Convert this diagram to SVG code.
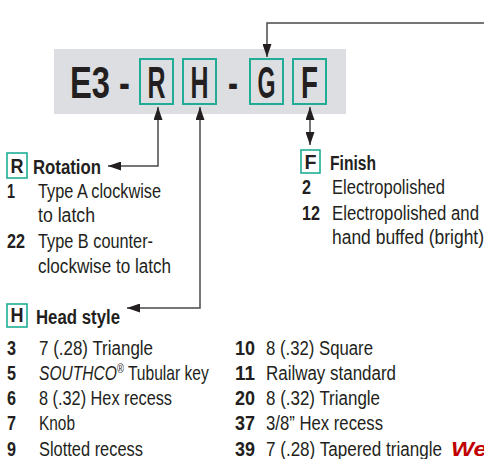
<svg xmlns="http://www.w3.org/2000/svg" width="484" height="459" viewBox="0 0 484 459">
<style>
.t{font-family:"Liberation Sans",Arial,sans-serif;font-size:20px;fill:#231f20}
.b{font-weight:bold}
.big{font-family:"Liberation Sans",Arial,sans-serif;font-size:44px;font-weight:bold;fill:#231f20}
.box{fill:none;stroke:#1fae95;stroke-width:2}
.sbox{fill:none;stroke:#1fae95;stroke-width:1.6}
.c{fill:none;stroke:#4a4a4a;stroke-width:1.5}
</style>
<defs>
<marker id="ah" viewBox="0 0 13 9" refX="13" refY="4.5" markerWidth="13" markerHeight="9" markerUnits="userSpaceOnUse" orient="auto-start-reverse">
<path d="M0,0 L13,4.5 L0,9 z" fill="#231f20"/>
</marker>
</defs>
<rect x="0" y="0" width="484" height="459" fill="#ffffff"/>
<g id="code">
<rect x="54" y="49" width="292" height="65" fill="#dcdee2"/>
<text class="big" x="70" y="98" textLength="60" lengthAdjust="spacingAndGlyphs">E3 -</text>
<rect class="box" x="140" y="59" width="33" height="45"/>
<text class="big" x="147.5" y="98" textLength="18" lengthAdjust="spacingAndGlyphs">R</text>
<rect class="box" x="183" y="59" width="33" height="45"/>
<text class="big" x="190.5" y="98" textLength="18" lengthAdjust="spacingAndGlyphs">H</text>
<text class="big" x="228" y="98" textLength="10" lengthAdjust="spacingAndGlyphs">-</text>
<rect class="box" x="250" y="59" width="33" height="45"/>
<text class="big" x="257.5" y="98" textLength="18" lengthAdjust="spacingAndGlyphs">G</text>
<rect class="box" x="293" y="59" width="33" height="45"/>
<text class="big" x="301" y="98" textLength="17" lengthAdjust="spacingAndGlyphs">F</text>
</g>
<g id="connectors">
<path class="c" d="M484,23 H267 V57" marker-end="url(#ah)"/>
<path class="c" d="M158,107 V166 H108" marker-start="url(#ah)" marker-end="url(#ah)"/>
<path class="c" d="M200,107 V308 H127" marker-start="url(#ah)" marker-end="url(#ah)"/>
<path class="c" d="M310,107 V145" marker-start="url(#ah)" marker-end="url(#ah)"/>
</g>
<g id="rotation">
<rect class="sbox" x="7" y="153" width="20" height="25"/>
<text class="t b" x="10.5" y="173" textLength="13" lengthAdjust="spacingAndGlyphs">R</text>
<text class="t b" x="33" y="174" textLength="68" lengthAdjust="spacingAndGlyphs">Rotation</text>
<text class="t b" x="7" y="198" textLength="8" lengthAdjust="spacingAndGlyphs">1</text>
<text class="t" x="38" y="198" textLength="123" lengthAdjust="spacingAndGlyphs">Type A clockwise</text>
<text class="t" x="38" y="222" textLength="57" lengthAdjust="spacingAndGlyphs">to latch</text>
<text class="t b" x="7" y="248" textLength="18" lengthAdjust="spacingAndGlyphs">22</text>
<text class="t" x="38" y="248" textLength="115" lengthAdjust="spacingAndGlyphs">Type B counter-</text>
<text class="t" x="38" y="273" textLength="133" lengthAdjust="spacingAndGlyphs">clockwise to latch</text>
</g>
<g id="finish">
<rect class="sbox" x="301" y="150" width="19" height="23"/>
<text class="t b" x="304.5" y="169" textLength="12" lengthAdjust="spacingAndGlyphs">F</text>
<text class="t b" x="330" y="170" textLength="46" lengthAdjust="spacingAndGlyphs">Finish</text>
<text class="t b" x="302" y="194" textLength="9" lengthAdjust="spacingAndGlyphs">2</text>
<text class="t" x="332" y="194" textLength="113" lengthAdjust="spacingAndGlyphs">Electropolished</text>
<text class="t b" x="302" y="220" textLength="18" lengthAdjust="spacingAndGlyphs">12</text>
<text class="t" x="332" y="220" textLength="147" lengthAdjust="spacingAndGlyphs">Electropolished and</text>
<text class="t" x="332" y="244" textLength="152" lengthAdjust="spacingAndGlyphs">hand buffed (bright)</text>
</g>
<g id="head-style">
<rect class="sbox" x="7" y="304" width="20" height="23"/>
<text class="t b" x="10.5" y="322" textLength="13" lengthAdjust="spacingAndGlyphs">H</text>
<text class="t b" x="36" y="324" textLength="84" lengthAdjust="spacingAndGlyphs">Head style</text>
<text class="t b" x="7" y="355" textLength="9" lengthAdjust="spacingAndGlyphs">3</text>
<text class="t" x="39" y="355" textLength="114" lengthAdjust="spacingAndGlyphs">7 (.28) Triangle</text>
<text class="t b" x="7" y="380" textLength="9" lengthAdjust="spacingAndGlyphs">5</text>
<text class="t" transform="translate(39,380) scale(0.78,1)" x="0" y="0"><tspan font-style="italic">SOUTHCO</tspan><tspan font-size="12" dy="-7">®</tspan><tspan dy="7"> Tubular key</tspan></text>
<text class="t b" x="7" y="405" textLength="9" lengthAdjust="spacingAndGlyphs">6</text>
<text class="t" x="39" y="405" textLength="133" lengthAdjust="spacingAndGlyphs">8 (.32) Hex recess</text>
<text class="t b" x="7" y="430" textLength="9" lengthAdjust="spacingAndGlyphs">7</text>
<text class="t" x="39" y="430" textLength="36" lengthAdjust="spacingAndGlyphs">Knob</text>
<text class="t b" x="7" y="456" textLength="9" lengthAdjust="spacingAndGlyphs">9</text>
<text class="t" x="39" y="456" textLength="104" lengthAdjust="spacingAndGlyphs">Slotted recess</text>
<text class="t b" x="235" y="355" textLength="20" lengthAdjust="spacingAndGlyphs">10</text>
<text class="t" x="266" y="355" textLength="107" lengthAdjust="spacingAndGlyphs">8 (.32) Square</text>
<text class="t b" x="235" y="380" textLength="20" lengthAdjust="spacingAndGlyphs">11</text>
<text class="t" x="266" y="380" textLength="130" lengthAdjust="spacingAndGlyphs">Railway standard</text>
<text class="t b" x="235" y="405" textLength="20" lengthAdjust="spacingAndGlyphs">20</text>
<text class="t" x="266" y="405" textLength="114" lengthAdjust="spacingAndGlyphs">8 (.32) Triangle</text>
<text class="t b" x="235" y="430" textLength="20" lengthAdjust="spacingAndGlyphs">37</text>
<text class="t" x="266" y="430" textLength="117" lengthAdjust="spacingAndGlyphs">3/8” Hex recess</text>
<text class="t b" x="235" y="456" textLength="20" lengthAdjust="spacingAndGlyphs">39</text>
<text class="t" x="266" y="456" textLength="176" lengthAdjust="spacingAndGlyphs">7 (.28) Tapered triangle</text>
<text class="t b" x="451" y="456" font-style="italic" style="fill:#c00000" textLength="36" lengthAdjust="spacingAndGlyphs">We</text>
</g>
</svg>
